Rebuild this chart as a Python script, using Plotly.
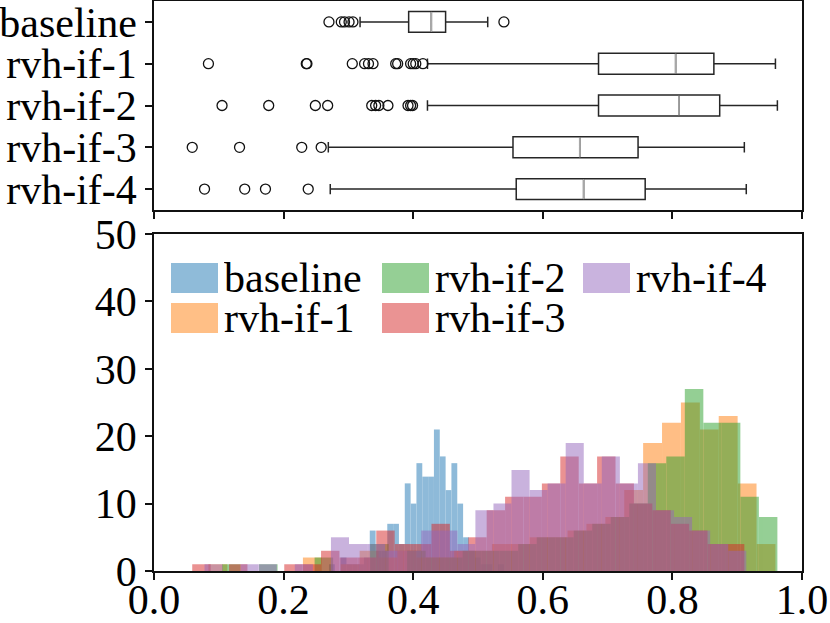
import plotly.graph_objects as go

# ---------------- data ----------------
names = ["baseline", "rvh-if-1", "rvh-if-2", "rvh-if-3", "rvh-if-4"]
colors = ["#1f77b4", "#ff7f0e", "#2ca02c", "#d62728", "#9467bd"]

# box plot statistics
box_q1 = [0.393, 0.686, 0.686, 0.554, 0.559]
box_med = [0.428, 0.805, 0.810, 0.657, 0.663]
box_q3 = [0.450, 0.864, 0.873, 0.747, 0.758]
box_lo = [0.318, 0.422, 0.422, 0.269, 0.272]
box_hi = [0.515, 0.959, 0.962, 0.911, 0.914]

outliers_baseline = [0.270, 0.289, 0.294, 0.301, 0.307, 0.540]
outliers_rvh1 = [0.084, 0.235, 0.236, 0.306, 0.325, 0.331, 0.338, 0.373, 0.376,
                 0.396, 0.400, 0.404, 0.415]
outliers_rvh2 = [0.105, 0.177, 0.249, 0.268, 0.336, 0.342, 0.347, 0.361,
                 0.392, 0.396, 0.399]
outliers_rvh3 = [0.059, 0.132, 0.228, 0.258]
outliers_rvh4 = [0.078, 0.140, 0.172, 0.238]

# histogram: 30 equal bins between each series' min and max
n_bins = 30
hist_lo = [0.270, 0.084, 0.105, 0.059, 0.078]
hist_hi = [0.540, 0.959, 0.962, 0.911, 0.914]

counts_baseline = [1, 0, 2, 1, 1, 1, 2, 6, 3, 3, 7, 7, 4, 13, 10,
                   16, 14, 14, 21, 17, 12, 16, 10, 5, 3, 2, 1, 1, 0, 1]
counts_rvh1 = [1, 0, 0, 0, 0, 2, 0, 1, 3, 2, 3, 2, 2, 3, 3,
               4, 4, 5, 5, 6, 7, 8, 12, 19, 22, 25, 21, 23, 13, 4]
counts_rvh2 = [1, 0, 1, 0, 0, 2, 0, 0, 4, 0, 3, 2, 2, 3, 3,
               3, 4, 5, 5, 6, 7, 8, 10, 16, 17, 27, 22, 22, 11, 8]
counts_rvh3 = [1, 0, 1, 0, 0, 1, 1, 3, 2, 2, 6, 4, 4, 7, 3,
               5, 9, 11, 11, 13, 17, 13, 17, 13, 10, 9, 7, 6, 4, 4]
counts_rvh4 = [1, 0, 1, 1, 0, 1, 0, 5, 4, 4, 3, 3, 6, 6, 4,
               9, 10, 15, 12, 13, 19, 13, 17, 13, 16, 9, 8, 6, 4, 3]

x_ticks = [0.0, 0.2, 0.4, 0.6, 0.8, 1.0]
x_ticktext = ["0.0", "0.2", "0.4", "0.6", "0.8", "1.0"]
y_ticks = [0, 10, 20, 30, 40, 50]

all_counts = [counts_baseline, counts_rvh1, counts_rvh2, counts_rvh3, counts_rvh4]
all_outliers = [outliers_baseline, outliers_rvh1, outliers_rvh2, outliers_rvh3, outliers_rvh4]

# ---------------- figure ----------------
FONT = "Liberation Serif"
FS = 42
W, H = 830, 623
ML, MR, MT, MB = 154, 28, 1, 52
PW, PH = W - ML - MR, H - MT - MB


def px_x(p):
    return (p - ML) / PW


def px_y(p):
    return (H - MB - p) / PH


fig = go.Figure()

# histograms
for i, name in enumerate(names):
    lo, hi = hist_lo[i], hist_hi[i]
    w = (hi - lo) / n_bins
    centers = [lo + w * (k + 0.5) for k in range(n_bins)]
    fig.add_trace(go.Bar(
        x=centers, y=all_counts[i], width=[w] * n_bins,
        marker=dict(color=colors[i], line=dict(width=0)), opacity=0.5,
        name=name, showlegend=False, xaxis="x", yaxis="y",
        hoverinfo="skip"))

# box plots (top panel)
positions = list(range(1, len(names) + 1))
for i, name in enumerate(names):
    fig.add_trace(go.Box(
        y=[positions[i]], q1=[box_q1[i]], median=[box_med[i]], q3=[box_q3[i]],
        lowerfence=[box_lo[i]], upperfence=[box_hi[i]], orientation="h",
        width=0.5, whiskerwidth=0.5, fillcolor="white",
        line=dict(color="#262626", width=1.5), boxpoints=False,
        showlegend=False, xaxis="x2", yaxis="y2", hoverinfo="skip"))
    # grey median line
    fig.add_trace(go.Scatter(
        x=[box_med[i], box_med[i]], y=[positions[i] - 0.24, positions[i] + 0.24],
        mode="lines", line=dict(color="#a8a8a8", width=1.6),
        showlegend=False, xaxis="x2", yaxis="y2", hoverinfo="skip"))
    # outliers
    fig.add_trace(go.Scatter(
        x=all_outliers[i], y=[positions[i]] * len(all_outliers[i]),
        mode="markers",
        marker=dict(symbol="circle-open", size=10, color="#111111",
                    line=dict(width=1.3)),
        showlegend=False, xaxis="x2", yaxis="y2", hoverinfo="skip"))

axis_common = dict(showline=True, mirror=True, linecolor="#111111", linewidth=1.5,
                   ticks="outside", ticklen=7, tickwidth=1.5, tickcolor="#111111",
                   showgrid=False, zeroline=False, automargin=False,
                   ticklabeloverflow="allow",
                   tickfont=dict(family=FONT, size=FS, color="black"))

top_bottom = 1 - (210 - MT) / PH
bot_top = 1 - (234 - MT) / PH

fig.update_layout(
    width=W, height=H,
    margin=dict(l=ML, r=MR, t=MT, b=MB, autoexpand=False),
    paper_bgcolor="white", plot_bgcolor="white",
    barmode="overlay", boxmode="overlay",
    xaxis=dict(domain=[0, 1], range=[0, 1], tickvals=x_ticks, ticktext=x_ticktext,
               anchor="y", ticklabelstandoff=-16, **axis_common),
    yaxis=dict(domain=[0, bot_top], range=[0, 50], tickvals=y_ticks,
               anchor="x", **axis_common),
    xaxis2=dict(domain=[0, 1], range=[0, 1], tickvals=x_ticks, showticklabels=False,
                anchor="y2", **axis_common),
    yaxis2=dict(domain=[top_bottom, 1], range=[len(names) + 0.5, 0.5],
                tickvals=positions, ticktext=names, anchor="x2", **axis_common),
    showlegend=False,
)

# legend (matplotlib style: 3 columns, filled column-wise)
col_swatch_x = [171, 382, 583]
row_swatch_y = [263, 303]
sw_w, sw_h = 47, 30
shapes, annotations = [], []
for i, name in enumerate(names):
    c, r = i // 2, i % 2
    x0 = col_swatch_x[c]
    y0 = row_swatch_y[r]
    shapes.append(dict(type="rect", xref="paper", yref="paper",
                       x0=px_x(x0), x1=px_x(x0 + sw_w),
                       y0=px_y(y0 + sw_h), y1=px_y(y0),
                       fillcolor=colors[i], opacity=0.5, line=dict(width=0)))
    annotations.append(dict(xref="paper", yref="paper", x=px_x(x0 + sw_w + 4),
                            y=px_y(y0 + sw_h / 2), text=name, showarrow=False,
                            xanchor="left", yanchor="middle", height=38,
                            valign="middle",
                            font=dict(family=FONT, size=FS, color="black")))
fig.update_layout(shapes=shapes, annotations=annotations)

fig.write_html("out.html",
               config={"displayModeBar": False},
               post_script="document.body.style.margin='0px';"
                           "document.body.style.overflow='hidden';")
